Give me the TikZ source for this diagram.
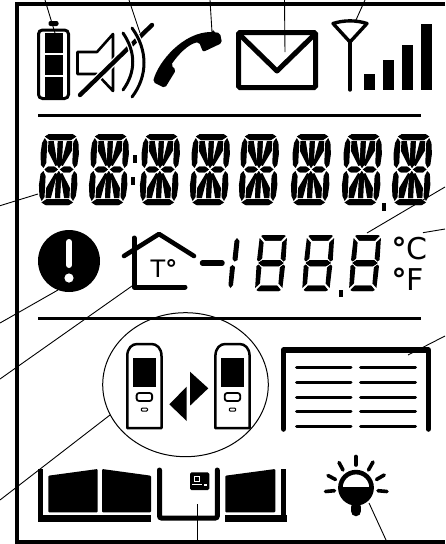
\documentclass[tikz,border=0pt]{standalone}
\usepackage{fontspec}
\setmainfont{DejaVu Sans}
\newcommand{\alnumquad}{%
  \fill (4,2.5)--(8,0)--(31,0)--(35,2.5)--(30,6)--(9,6)--cycle;
  \fill (3.5,4)--(6.2,8)--(6.2,29)--(3.8,34)--(1,31)--(0,20)--(1,9)--cycle;
  \fill (16.7,7)--(21.7,7)--(21.7,30)--(19.2,34)--(16.7,30)--cycle;
  \fill (4.8,35.5)--(8,32.7)--(14.5,32.7)--(18.2,35.5)--(14.5,38.3)--(8,38.3)--cycle;
  \fill (7.3,7)--(12.6,7)--(17.6,31)--(15.6,32)--(7.3,17)--cycle;
}
\newcommand{\alnumdigit}[1]{%
  \begin{scope}[shift={(#1+3.5,134)},xslant=0.05]
    \alnumquad
    \begin{scope}[shift={(38.4,0)},xscale=-1]\alnumquad\end{scope}
    \begin{scope}[shift={(0,71)},yscale=-1]\alnumquad\end{scope}
    \begin{scope}[shift={(38.4,71)},xscale=-1,yscale=-1]\alnumquad\end{scope}
  \end{scope}}
\newcommand{\sevenquad}{%
  \fill (2.2,1)--(4,0)--(24.5,0)--(26.3,1)--(22.5,5.5)--(6.5,5.5)--cycle;
  \fill (0.6,3)--(5,7.5)--(5,23.5)--(2,26.5)--(0,25)--cycle;
  \fill (1.8,28)--(6,25)--(22.5,25)--(26.7,28)--(22.5,31)--(6,31)--cycle;
}
\newcommand{\sevendigit}[1]{%
  \begin{scope}[shift={(#1+5,235)},xslant=0.09]
    \sevenquad
    \begin{scope}[shift={(28.5,0)},xscale=-1]\sevenquad\end{scope}
    \begin{scope}[shift={(0,56)},yscale=-1]\sevenquad\end{scope}
    \begin{scope}[shift={(28.5,56)},xscale=-1,yscale=-1]\sevenquad\end{scope}
  \end{scope}}
\newcommand{\remotecontrol}[1]{%
  \begin{scope}[shift={(#1,0)}]
    \draw[line width=2.5pt,line join=round] (1.2,428.2)--(1.2,356) .. controls (1.2,348) and (6,344) .. (11,344)--(25.4,344) .. controls (30.5,344) and (35.4,348) .. (35.4,356)--(35.4,428.2)--cycle;
    \fill (6.6,358.3) rectangle (30,387.3);
    \draw[line width=1.8pt,rounded corners=2.5pt] (10.5,393) rectangle (26,401);
    \draw[line width=1pt,rounded corners=1pt] (15.2,408) rectangle (21.4,411.2);
  \end{scope}}
\tikzset{
  frameline/.style={line width=4pt},
  sepline/.style={line width=3.5pt},
  leader/.style={line width=0.9pt},
  ray/.style={line width=3.6pt,line cap=round},
  blindbar/.style={line width=3pt,line cap=round},
  panel/.style={fill,rounded corners=1pt},
  labeltext/.style={inner sep=0pt,anchor=base west},
}
\begin{document}
\begin{tikzpicture}[x=1pt,y=-1pt]
\useasboundingbox (0,0) rectangle (445,544);
% frame
\draw[frameline] (445,4)--(17.3,4)--(17.3,541.7)--(445,541.7);
\draw[sepline] (38,115.5)--(421,115.5);
\draw[sepline] (38,318.7)--(421,318.7);
% battery
\draw[line width=3pt,rounded corners=4pt] (38.5,30)--(68.5,30)--(68.5,98.5)--(38.5,98.5)--cycle;
\fill[rounded corners=2pt] (48.5,21)rectangle(58.5,26);
\fill (44.7,33) rectangle (62.7,53);
\fill (44.7,55) rectangle (62.7,75);
\fill (44.7,77) rectangle (62.7,97);
% speaker
\draw[line width=2.6pt,line join=round] (77.5,52)--(97,52)--(113,34)--(113,91)--(97,74)--(77.5,74)--cycle;
\draw[line width=7pt,white] (80,95)--(152,25);
\draw[line width=4.4pt,line cap=round] (80,95)--(152,25);
\draw[white,line width=5.5pt] (123,33) .. controls (136,52) and (136,72) .. (123,90);
\draw[white,line width=5.5pt] (132,28) .. controls (148,50) and (148,76) .. (132,97);
\draw[line width=3pt,line cap=round] (123,33) .. controls (136,52) and (136,72) .. (123,90);
\draw[line width=3pt,line cap=round] (132,28) .. controls (148,50) and (148,76) .. (132,97);
% handset
\fill[rounded corners=2pt] (213,32)--(220,33)--(222,43)--(203,52)--(199,42)
  .. controls (188,44) and (178,55) .. (171,65)--(176,70)--(165,88)--(153,82)
  .. controls (158,62) and (183,32) .. (213,32)--cycle;
% envelope
\draw[line width=5pt,rounded corners=1.5pt] (238.5,32.5) rectangle (315.5,87.5);
\draw[line width=5pt,line join=round] (240,35)--(277,71)--(314,35);
% antenna
\draw[line width=3.4pt,line join=round,line cap=round] (333,23.5) .. controls (344,20) and (356,20) .. (367,23.5)--(350,42)--cycle;
\draw[line width=3.4pt,line cap=round] (350,42)--(350,90);
\fill (364,74) rectangle (375,90);
\fill (383,59.5) rectangle (394,90);
\fill (402,45) rectangle (413,90);
\fill (421,24) rectangle (432,90);
% alphanumeric display
\foreach \px in {38,88,139,189,238,290,341,391}{\alnumdigit{\px}}
\fill (132.7,155) rectangle (136.7,163);
\fill (130.7,176.7) rectangle (135,185);
\fill (381.7,203) rectangle (386,211);
% alert
\fill (69,261) circle[radius=31];
\draw[white,line width=6pt,line cap=round] (69,242)--(69,265);
\fill[white] (69,278) circle[radius=4.6];
% house
\draw[line width=4.6pt,line cap=round,line join=round] (124,256)--(159,234)--(194,256);
\draw[line width=5pt,line cap=round,line join=round] (134,238)--(134,287)--(185,287);
\node[labeltext,font=\fontsize{24}{24}\selectfont] (housetemp) at (150.5,277) {T{\bfseries °}};
% temperature display
\draw[line width=5.5pt,line cap=round] (202.5,263)--(222,263);
\fill (237,238)--(239.5,241)--(237.5,260)--(234.5,261.5)--(232.5,259)--(234.5,241)--cycle;
\fill (232.5,265)--(235,267)--(233,285)--(230.5,288)--(228.5,285)--(230,267)--cycle;
\sevendigit{254.3}
\sevendigit{301.5}
\sevendigit{348.3}
\fill (339,290) rectangle (343.3,296.7);
\node[labeltext,font=\fontsize{30}{30}\selectfont] (unitc) at (391.5,259) {{\bfseries °}C};
\node[labeltext,font=\fontsize{30}{30}\selectfont] (unitf) at (391.5,290) {{\bfseries °}F};
% link
\draw[line width=1pt] (185.5,384.7) ellipse[x radius=82.8,y radius=72];
\remotecontrol{126.1}
\remotecontrol{214.2}
\fill (190,371.7)--(208.3,388.3)--(190,405.7)--cycle;
\fill (186.7,386.7)--(169.3,404.3)--(186.7,421)--cycle;
% blinds
\draw[line width=5.5pt,line cap=round,line join=round] (283.5,429)--(283.5,350)--(428.3,350)--(428.3,429);
\foreach \py in {367.7,382.3,397,411.7,426.3}{
  \draw[blindbar] (296.5,\py)--(351,\py);
  \draw[blindbar] (360.5,\py)--(415.5,\py);
}
% gate
\draw[line width=5pt] (40.8,516)--(40.8,468.5);
\fill (38.3,515) rectangle (151,522);
\fill[panel] (48.3,475.7)--(97.7,469)--(97.7,512.3)--(48.3,512.3)--cycle;
\fill[panel] (102,469)--(151,475.7)--(151,512.3)--(102,512.3)--cycle;
\draw[line width=5pt,line cap=round,rounded corners=2pt] (159.5,470)--(159.5,518)--(217.3,518)--(217.3,470);
\fill[rounded corners=1.5pt] (190,472.3) rectangle (209.3,490);
\draw[white,line width=0.8pt] (194.5,476.5) rectangle (199,481);
\draw[white,line width=1pt] (192.3,484.8)--(202.3,484.8);
\draw[white,line width=1.6pt] (204.3,484.8)--(207.3,484.8);
\fill (225.3,515) rectangle (286.7,522);
\fill[panel] (225.3,475.7)--(275.3,469)--(275.3,512.3)--(225.3,512.3)--cycle;
\draw[line width=5pt] (283.5,516)--(283.5,468.5);
% bulb
\draw[line width=4.6pt] (356,487.7) circle[radius=15.6];
\fill (340.4,487) arc[start angle=180,end angle=0,radius=15.6]--cycle;
\draw[line width=10.5pt,line cap=round] (356,507)--(356,511);
\draw[ray] (356,456.5)--(356,465);
\draw[ray] (339,462.5)--(343,470);
\draw[ray] (373,462)--(368.5,470);
\draw[ray] (328,475.5)--(335.5,479.5);
\draw[ray] (384.2,475)--(376.5,479.5);
\draw[ray] (325.5,491.5)--(334.5,490.7);
\draw[ray] (378,490.7)--(387,491.5);
% leaders
\draw[leader] (45,0)--(61,53);
\draw[leader] (129,0)--(140,33);
\draw[leader] (210,0)--(212,32);
\draw[leader] (284.5,0)--(285,52);
\draw[leader] (365,0)--(356,20);
\draw[leader] (0,205.7)--(38,194);
\draw[leader] (445,187)--(367,233);
\draw[leader] (445,229)--(423,232.7);
\draw[leader] (0,323)--(58,290);
\draw[leader] (0,379)--(132,286);
\draw[leader] (0,500)--(110,415);
\draw[leader] (445,336)--(408,355);
\draw[leader] (197,504)--(197,541);
\draw[leader] (369,503)--(386,540);
\end{tikzpicture}
\end{document}
